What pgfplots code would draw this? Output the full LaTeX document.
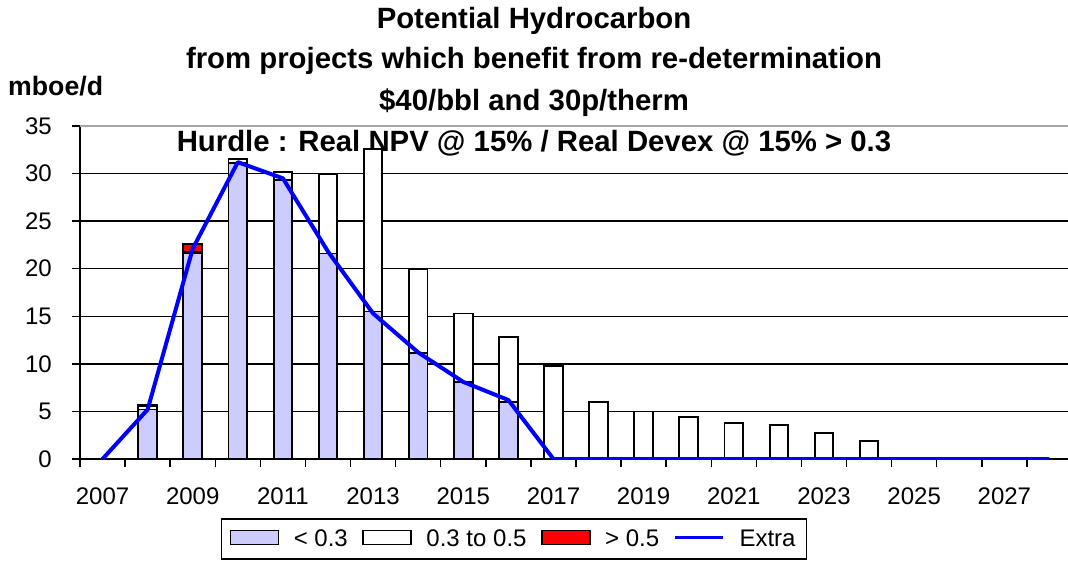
\documentclass[border=0pt]{standalone}
\usepackage{pgfplots}
\usepackage{pgfplotstable}
\pgfplotsset{compat=1.18}
\usepackage{fontspec}
\setmainfont{Liberation Sans}
\definecolor{lav}{RGB}{204,204,255}

\pgfplotstableread{
x lo mid hi
0 0 0 0
1 5.2 0.35 0.1
2 21.6 0.2 0.8
3 31.1 0.4 0
4 29.3 0.9 0
5 21.6 8.4 0
6 15.5 17.05 0
7 11.1 8.9 0
8 8.1 7.2 0
9 6.0 6.8 0
10 0 9.8 0
11 0 6.0 0
12 0 5.0 0
13 0 4.4 0
14 0 3.75 0
15 0 3.55 0
16 0 2.7 0
17 0 1.85 0
18 0 0.1 0
19 0 0 0
20 0 0 0
21 0 0 0
}\barsdata

\pgfplotstableread{
x extra
0 0
1 5.2
2 22.1
3 31.2
4 29.5
5 21.8
6 15.3
7 11.2
8 8.1
9 6.2
10 0
11 0
12 0
13 0
14 0
15 0
16 0
17 0
18 0
19 0
20 0
21 0
}\extradata

\pgfplotsset{
  base/.style={
    width=744pt, height=249.75pt, scale only axis,
    xmin=-0.5, xmax=21.5, ymin=0, ymax=35,
  },
  boxleg/.style={legend image code/.code={\draw[##1, line width=1pt] (0pt,-4pt) rectangle (36pt,6.5pt);}},
  lineleg/.style={legend image code/.code={\draw[##1] (0pt,1pt) -- (36pt,1pt);}},
}

\begin{document}
\begin{tikzpicture}
\path[use as bounding box] (-60pt,-77.25pt) rectangle (741pt,344.25pt);
\begin{axis}[
  base,
  ybar stacked,
  bar width=14pt,
  clip=false,
  axis x line*=bottom, axis y line*=left,
  axis line style={line width=1.2pt, black},
  tick align=outside,
  major tick length=6pt,
  tick style={line width=1.1pt, black},
  xtick={-0.5,0.5,...,21.5},
  xticklabels={},
  extra x ticks={0,2,...,20},
  extra x tick labels={2007,2009,2011,2013,2015,2017,2019,2021,2023,2025,2027},
  extra x tick style={major tick length=0pt, grid=none,
    ticklabel style={anchor=north, inner sep=0pt, yshift=-21pt}},
  ytick={0,5,...,35},
  ymajorgrids,
  grid style={black, line width=1.1pt},
  /pgf/number format/assume math mode=true,
  ticklabel style={font=\fontsize{18}{21.6}\selectfont},
  yticklabel style={anchor=east, inner sep=0pt, xshift=-15pt},
  legend style={at={(axis description cs:0.4375,-0.240)}, anchor=center,
    draw=black, line width=1pt, legend columns=4,
    font=\fontsize{18}{21.6}\selectfont,
    inner xsep=6pt, inner ysep=6pt,
    /tikz/every odd column/.append style={column sep=9pt},
    /tikz/every even column/.append style={column sep=9pt}},
  legend cell align=left,
]
\addplot[fill=lav, draw=black, line width=1.4pt, boxleg]
  table[x=x, y=lo] {\barsdata};
\addlegendentry{< 0.3}
\addplot[fill=white, draw=black, line width=1.4pt, boxleg]
  table[x=x, y=mid] {\barsdata};
\addlegendentry{0.3 to 0.5}
\addplot[fill=red, draw=black, line width=1.4pt, boxleg]
  table[x=x, y=hi] {\barsdata};
\addlegendentry{> 0.5}
\addlegendimage{blue, line width=2.2pt, lineleg}
\addlegendentry{Extra}
\draw[gray!70, line width=1.2pt] (rel axis cs:0,1) -- (rel axis cs:1,1);
\node[anchor=base, font=\fontsize{22}{26}\selectfont\bfseries] at (rel axis cs:0.4577,1.2943) {Potential Hydrocarbon};
\node[anchor=base, font=\fontsize{22}{26}\selectfont\bfseries] at (rel axis cs:0.4577,1.1712) {from projects which benefit from re-determination};
\node[anchor=base, font=\fontsize{22}{26}\selectfont\bfseries] at (rel axis cs:0.4577,1.0480) {\$40/bbl and 30p/therm};
\node[anchor=base, font=\fontsize{22}{26}\selectfont\bfseries] at (rel axis cs:0.4577,0.9249) {Hurdle : Real NPV @ 15\% / Real Devex @ 15\% > 0.3};
\node[anchor=base west, inner sep=0pt, font=\fontsize{20}{24}\selectfont\bfseries] at (rel axis cs:-0.0726,1.0931) {mboe/d};
\end{axis}
\begin{axis}[base, hide axis]
\addplot[blue, line width=3pt, line join=round] table[x=x, y=extra] {\extradata};
\end{axis}
\end{tikzpicture}
\end{document}
